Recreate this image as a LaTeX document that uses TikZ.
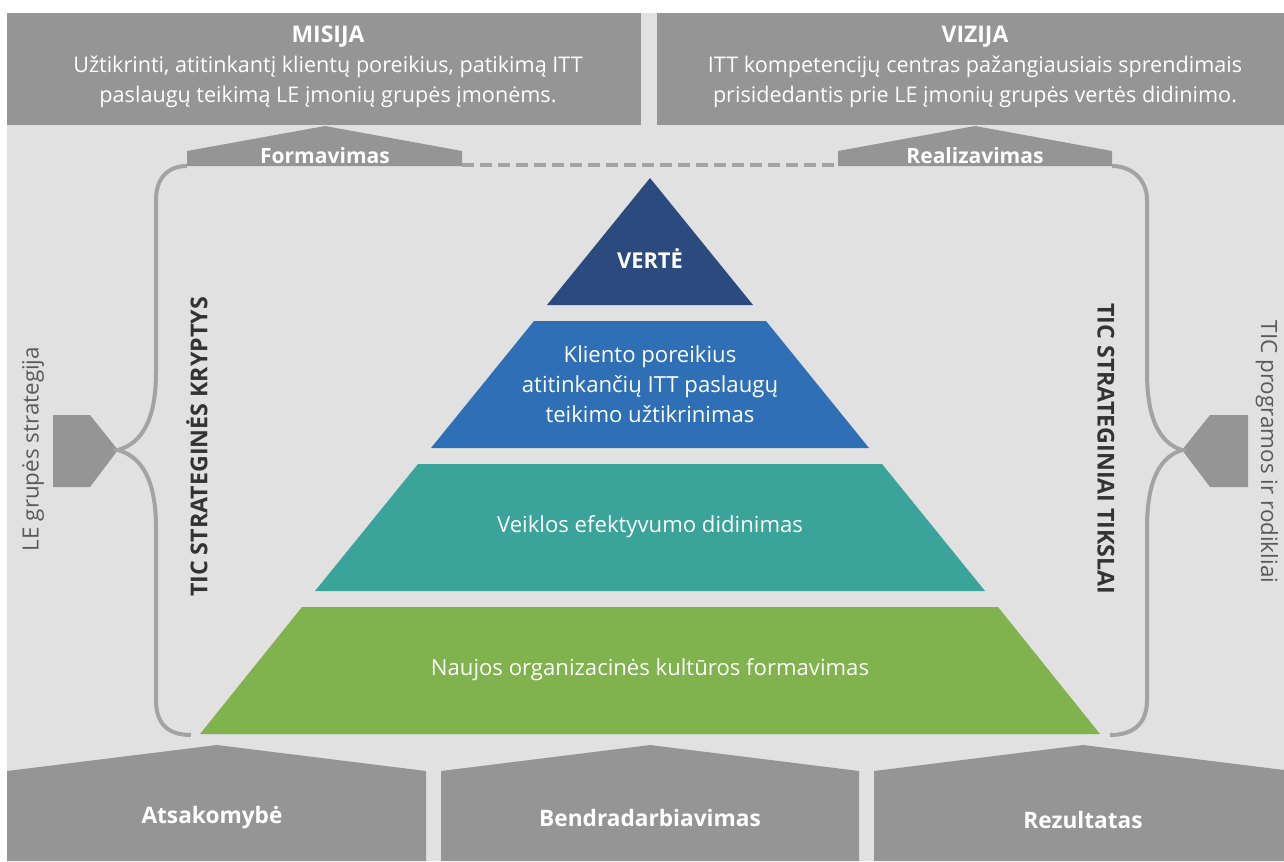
\documentclass[tikz,border=0pt]{standalone}
\usepackage{fontspec}
\setmainfont{Open Sans}
\usetikzlibrary{positioning}

\definecolor{bggray}{HTML}{E1E1E1}
\definecolor{boxgray}{HTML}{959595}
\definecolor{linegray}{HTML}{A3A3A3}
\definecolor{vertecol}{HTML}{2B4A7E}
\definecolor{klientcol}{HTML}{2E6FB6}
\definecolor{veiklacol}{HTML}{3AA39A}
\definecolor{kultcol}{HTML}{80B24E}
\definecolor{darktext}{HTML}{333333}
\definecolor{sidegray}{HTML}{5A5A5A}

\begin{document}
\begin{tikzpicture}[x=0.75pt,y=-0.75pt,
  boxfill/.style={fill=boxgray},
  headtext/.style={text=white,align=center,font=\fontsize{16.2}{22.5}\selectfont},
  tabtext/.style={text=white,font=\fontsize{15.8}{16}\selectfont\bfseries},
  bandtext/.style={text=white,align=center,font=\fontsize{16.6}{22.5}\selectfont},
  bracebar/.style={draw=linegray,line width=3pt},
  sidetext/.style={text=sidegray,font=\fontsize{16.8}{18}\selectfont},
  axistext/.style={text=darktext,font=\fontsize{17.4}{18}\selectfont\bfseries},
  basetext/.style={text=white,font=\fontsize{17}{18}\selectfont\bfseries}]

\useasboundingbox (0,0) rectangle (1284,861);
\fill[white] (0,0) rectangle (1284,861);
\fill[bggray] (7,13) rectangle (1284,861);

% header boxes
\fill[boxfill] (7,13) rectangle (641,125);
\fill[boxfill] (657,13) rectangle (1284,125);
\node[headtext] (misija) at (328,67) {{\fontsize{17.2}{22.5}\selectfont\bfseries MISIJA}\\Užtikrinti, atitinkantį klientų poreikius, patikimą ITT\\paslaugų teikimą LE įmonių grupės įmonėms.};
\node[headtext] (vizija) at (975,67) {{\fontsize{17.2}{22.5}\selectfont\bfseries VIZIJA}\\ITT kompetencijų centras pažangiausiais sprendimais\\prisidedantis prie LE įmonių grupės vertės didinimo.};

% tabs under the headers
\fill[boxfill] (187,166) -- (187,151) -- (325,126) -- (462,151) -- (462,166) -- cycle;
\fill[boxfill] (838,166) -- (838,151) -- (975,126) -- (1112,151) -- (1112,166) -- cycle;
\node[tabtext] (formavimas) at (325,156) {Formavimas};
\node[tabtext] (realizavimas) at (975,156) {Realizavimas};
\coordinate (formL) at (187,166);
\coordinate (formR) at (462,165);
\coordinate (realL) at (838,165);
\coordinate (realR) at (1112,166);
\draw[draw=linegray,line width=3pt,dash pattern=on 9pt off 4.5pt] (formR) -- (realL);

% pyramid
\fill[vertecol] (650,178) -- (753,305) -- (547,305) -- cycle;
\fill[klientcol] (534,321) -- (766,321) -- (869,448) -- (431,448) -- cycle;
\fill[veiklacol] (418,464) -- (882,464) -- (985,591) -- (315,591) -- cycle;
\fill[kultcol] (302,607) -- (998,607) -- (1100,734) -- (200,734) -- cycle;
\node[text=white,font=\fontsize{16.4}{18}\selectfont\bfseries] (verte) at (650,259) {VERTĖ};
\node[bandtext] (kliento) at (650,384) {Kliento poreikius\\atitinkančių ITT paslaugų\\teikimo užtikrinimas};
\node[bandtext] (veikla) at (650,527) {Veiklos efektyvumo didinimas};
\node[bandtext] (kultura) at (650,670) {Naujos organizacinės kultūros formavimas};

% side tabs
\fill[boxfill] (53,415) -- (90,415) -- (118,450) -- (90,487) -- (53,487) -- cycle;
\fill[boxfill] (1248,415) -- (1210,415) -- (1182,450) -- (1210,487) -- (1248,487) -- cycle;
\coordinate (leftTip) at (118,450);
\coordinate (rightTip) at (1182,450);
\coordinate (leftEnd) at (191,735);
\coordinate (rightEnd) at (1110,735);

% braces
\draw[bracebar] (formL) .. controls (168,166) and (156,178) .. (156,200)
  -- (156,372) .. controls (156,420) and (142,443) .. (leftTip)
  .. controls (142,457) and (156,480) .. (156,528)
  -- (156,700) .. controls (156,724) and (168,735) .. (leftEnd);
\draw[bracebar] (realR) .. controls (1130,166) and (1147,178) .. (1147,200)
  -- (1147,372) .. controls (1147,420) and (1160,443) .. (rightTip)
  .. controls (1160,457) and (1147,480) .. (1147,528)
  -- (1147,700) .. controls (1147,724) and (1133,735) .. (rightEnd);

\node[sidetext,rotate=90] (legrupe) at (33,449) {LE grupės strategija};
\node[axistext,rotate=90] (kryptys) at (197,447) {TIC STRATEGINĖS KRYPTYS};
\node[axistext,rotate=-90] (tikslai) at (1106,449) {TIC STRATEGINIAI TIKSLAI};
\node[sidetext,rotate=-90] (rodikliai) at (1267,452) {TIC programos ir rodikliai};

% base blocks
\fill[boxfill] (7,861) -- (7,771) -- (217,745) -- (426,771) -- (426,861) -- cycle;
\fill[boxfill] (441,861) -- (441,771) -- (650,745) -- (859,771) -- (859,861) -- cycle;
\fill[boxfill] (874,861) -- (874,771) -- (1083,745) -- (1292,771) -- (1292,861) -- cycle;
\node[basetext] (atsakomybe) at (212,818) {Atsakomybė};
\node[basetext] (bendradarb) at (650,818) {Bendradarbiavimas};
\node[basetext] (rezultatas) at (1083,820) {Rezultatas};

\end{tikzpicture}
\end{document}
